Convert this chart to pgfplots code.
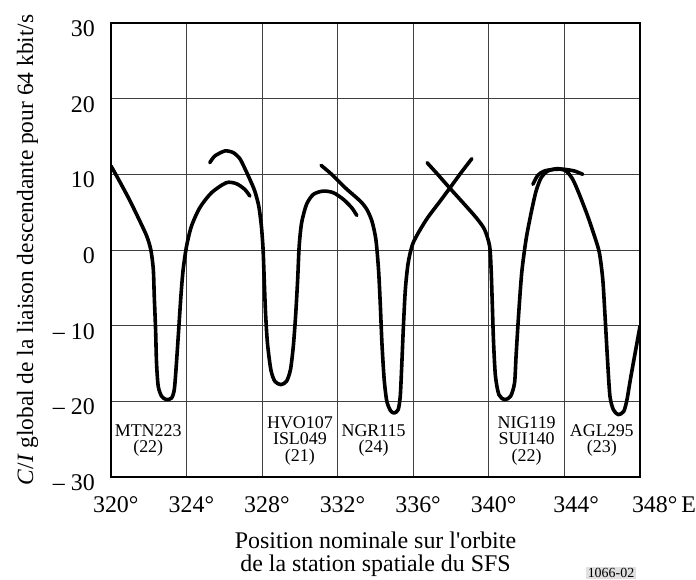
\documentclass[border=0pt]{standalone}
\usepackage{fontspec}
\setmainfont{Liberation Serif}
\newfontfamily\plainserif{Liberation Serif}[Ligatures=ResetAll]
\usepackage{pgfplots}
\pgfplotsset{compat=1.18}
\begin{document}
\begin{tikzpicture}
\path[use as bounding box] (-111bp,-103bp) rectangle (585bp,477bp);
\begin{axis}[
  at={(0,0)}, anchor=south west, name=ax,
  scale only axis, width=529bp, height=454bp,
  xmin=320, xmax=348, ymin=-30, ymax=30,
  xtick={320,324,...,348}, ytick={-30,-20,...,30},
  xticklabels={320\rlap{°},324\rlap{°},328\rlap{°},332\rlap{°},336\rlap{°},340\rlap{°},{\makebox[0pt]{\hspace*{14bp}344\rlap{°}}},{\makebox[0pt][l]{\hspace*{-8bp}348°\,E}}},
  yticklabels={–\ 30,–\ 20,–\ 10,0,10,20,30},
  major tick length=0pt,
  grid=major,
  grid style={black!75, line width=0.8bp},
  axis line style={line width=1.2bp},
  xticklabel style={font=\fontsize{24}{28}\selectfont, inner sep=0pt, anchor=base, yshift=-35bp},
  yticklabel style={font=\fontsize{24}{28}\selectfont, inner sep=0pt, anchor=base east, xshift=-16bp, yshift=-13.6bp},
  xlabel={Position nominale sur l{\plainserif '}orbite\\de la station spatiale du SFS},
  xlabel style={at={(axis description cs:0.5,0)}, anchor=north, inner sep=0pt, yshift=-55bp, align=center, font=\fontsize{24}{22.5}\selectfont},
  ylabel={\textit{C}/\textit{I} global de la liaison descendante pour 64 kbit/s},
  ylabel style={at={(axis description cs:-0.1474,0.5)}, anchor=base, inner sep=0pt, font=\fontsize{23.5}{26}\selectfont},
]
% MTN223 curve
\addplot[black, line width=3.6bp, smooth, tension=0.45, line join=round, line cap=round] coordinates {
(320.0,11.10) (320.30,9.78) (320.92,6.91) (321.44,4.27) (321.89,1.84) (322.11,0.0)
(322.24,-2.57) (322.29,-6.10) (322.36,-10.51) (322.41,-14.92) (322.50,-18.01)
(322.68,-19.33) (322.94,-19.78) (323.21,-19.55) (323.35,-18.45) (323.44,-15.81)
(323.56,-11.40) (323.70,-6.10) (323.82,-2.57) (324.00,0.51) (324.26,3.16)
(324.70,5.59) (325.32,7.57) (326.11,8.90) (326.64,8.76) (327.08,8.01) (327.35,7.13)
};
% HVO107 / ISL049 curve
\addplot[black, line width=3.6bp, smooth, tension=0.45, line join=round, line cap=round] coordinates {
(325.23,11.54) (325.50,12.43) (326.03,13.09) (326.47,12.87) (326.82,12.07) (327.08,10.8)
(327.35,9.34) (327.61,7.79) (327.82,5.81) (327.96,3.16) (328.05,0.07) (328.11,-3.90)
(328.18,-8.31) (328.28,-12.28) (328.46,-15.81) (328.67,-17.35) (328.99,-17.79)
(329.29,-17.35) (329.50,-15.81) (329.65,-12.72) (329.77,-8.75) (329.88,-3.90)
(329.96,0.52) (330.09,3.60) (330.35,6.03) (330.71,7.35) (331.24,7.79) (331.77,7.57)
(332.30,6.69) (332.74,5.59) (333.01,4.57)
};
% NGR115 curve
\addplot[black, line width=3.6bp, smooth, tension=0.45, line join=round, line cap=round] coordinates {
(331.12,11.19) (331.68,10.0) (332.39,8.24) (333.19,6.47) (333.54,5.37) (333.81,3.82)
(334.02,1.40) (334.16,-2.57) (334.25,-6.98) (334.34,-12.28) (334.46,-17.13)
(334.60,-20.0) (334.80,-21.25) (334.99,-21.54) (335.20,-21.10) (335.31,-19.33)
(335.38,-15.81) (335.47,-10.51) (335.58,-5.21) (335.73,-1.69) (335.96,0.74)
(336.32,2.50) (336.76,4.27) (337.29,6.03) (337.91,8.10) (338.53,10.22) (339.10,12.07)
};
% NIG119 / SUI140 and AGL295 curve
\addplot[black, line width=3.6bp, smooth, tension=0.45, line join=round, line cap=round] coordinates {
(336.73,11.54) (337.29,10.0) (337.91,8.24) (338.71,6.03) (339.33,4.27) (339.77,2.72)
(340.04,0.52) (340.12,-2.57) (340.18,-6.98) (340.25,-12.28) (340.35,-16.69)
(340.53,-19.11) (340.83,-19.78) (341.15,-19.33) (341.36,-17.57) (341.44,-14.04)
(341.57,-8.75) (341.74,-3.01) (341.97,1.40) (342.24,4.93) (342.50,7.79) (342.77,9.56)
(343.12,10.44) (343.65,10.75) (344.09,10.44) (344.44,9.34) (344.79,7.35) (345.23,4.49)
(345.59,1.84) (345.85,-0.37) (346.03,-3.90) (346.15,-8.75) (346.29,-14.92)
(346.41,-19.33) (346.59,-21.10) (346.85,-21.76) (347.14,-21.32) (347.31,-19.78)
(347.52,-16.69) (348.0,-10.07)
};
% short arc near 344
\addplot[black, line width=3.6bp, smooth, tension=0.45, line join=round, line cap=round] coordinates {
(342.33,8.68) (342.59,9.87) (342.94,10.44) (343.47,10.66) (344.0,10.66) (344.53,10.44) (344.97,10.0)
};
\node[align=center, font=\fontsize{18}{16.5}\selectfont] at (axis cs:321.97,-25.2) {MTN223\\(22)};
\node[align=center, font=\fontsize{18}{16.5}\selectfont] at (axis cs:330.0,-25.2) {HVO107\\ISL049\\(21)};
\node[align=center, font=\fontsize{18}{16.5}\selectfont] at (axis cs:333.9,-25.2) {NGR115\\(24)};
\node[align=center, font=\fontsize{18}{16.5}\selectfont] at (axis cs:342.0,-25.2) {NIG119\\SUI140\\(22)};
\node[align=center, font=\fontsize{18}{16.5}\selectfont] at (axis cs:345.98,-25.2) {AGL295\\(23)};
\end{axis}
\node[fill=black!12, font=\fontsize{14}{14}\selectfont, inner sep=1.5bp, anchor=south] at (500bp,-102.5bp) {1066-02};
\end{tikzpicture}
\end{document}
